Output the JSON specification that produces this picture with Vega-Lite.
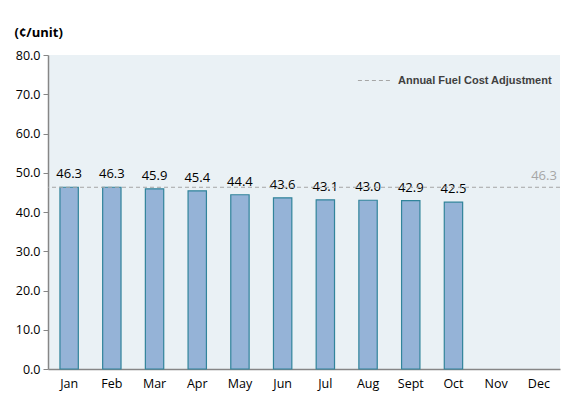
{
  "$schema": "https://vega.github.io/schema/vega-lite/v6.json",
  "width": 512,
  "height": 314,
  "autosize": "none",
  "padding": {"left": 48, "top": 55, "right": 20, "bottom": 28},
  "background": "white",
  "config": {
    "view": {"fill": "#eaf1f5", "stroke": null},
    "font": "Open Sans"
  },
  "datasets": {
    "bars": [
      {"month": "Jan", "value": 46.3},
      {"month": "Feb", "value": 46.3},
      {"month": "Mar", "value": 45.9},
      {"month": "Apr", "value": 45.4},
      {"month": "May", "value": 44.4},
      {"month": "Jun", "value": 43.6},
      {"month": "Jul", "value": 43.1},
      {"month": "Aug", "value": 43.0},
      {"month": "Sept", "value": 42.9},
      {"month": "Oct", "value": 42.5}
    ],
    "adj": [
      {"series": "Annual Fuel Cost Adjustment", "value": 46.3}
    ]
  },
  "encoding": {
    "y": {
      "field": "value", "type": "quantitative",
      "scale": {"domain": [0, 80]},
      "axis": {"title": "(¢/unit)", "titleAngle": 0, "titleAlign": "left", "titleBaseline": "bottom", "titleX": -34, "titleY": -16, "titleFontSize": 13, "titleFontWeight": "bold", "titleColor": "#000000", "values": [0,10,20,30,40,50,60,70,80], "labelOverlap": false, "format": ".1f", "grid": false, "labelFontSize": 12.5, "labelColor": "#000000", "tickSize": 5, "tickColor": "#868686", "domainColor": "#868686", "domainWidth": 1.5, "labelPadding": 3}
    }
  },
  "layer": [
    {
      "data": {"name": "bars"},
      "mark": {"type": "bar", "fill": "#95b3d7", "stroke": "#31849b", "strokeWidth": 1.2},
      "encoding": {
        "x": {
          "field": "month", "type": "nominal",
          "scale": {"domain": ["Jan","Feb","Mar","Apr","May","Jun","Jul","Aug","Sept","Oct","Nov","Dec"], "paddingInner": 0.57, "paddingOuter": 0.28},
          "axis": {"title": null, "labelAngle": 0, "ticks": false, "labelFontSize": 12.5, "labelColor": "#000000", "labelPadding": 8, "domainColor": "#868686", "domainWidth": 1.5}
        }
      }
    },
    {
      "data": {"name": "bars"},
      "mark": {"type": "text", "baseline": "bottom", "dy": -6, "fontSize": 13, "color": "#000000"},
      "encoding": {
        "x": {"field": "month", "type": "nominal"},
        "text": {"field": "value", "type": "quantitative", "format": ".1f"}
      }
    },
    {
      "data": {"name": "adj"},
      "mark": {"type": "rule", "strokeDash": [4, 3], "strokeWidth": 1},
      "encoding": {
        "color": {
          "field": "series", "type": "nominal",
          "scale": {"range": ["#a6a6a6"]},
          "legend": {"title": null, "orient": "top-right", "offset": 8, "symbolType": "stroke", "symbolDash": [4, 3], "symbolStrokeWidth": 1, "symbolSize": 1100, "labelFont": "Liberation Sans", "labelFontWeight": "bold", "labelFontSize": 11, "labelColor": "#404040", "labelOffset": 6}
        }
      }
    },
    {
      "data": {"name": "adj"},
      "mark": {"type": "text", "align": "right", "baseline": "bottom", "dx": 18, "dy": -4, "fontSize": 13, "color": "#a6a6a6"},
      "encoding": {
        "x": {"datum": "Dec"},
        "text": {"field": "value", "type": "quantitative", "format": ".1f"}
      }
    }
  ]
}
